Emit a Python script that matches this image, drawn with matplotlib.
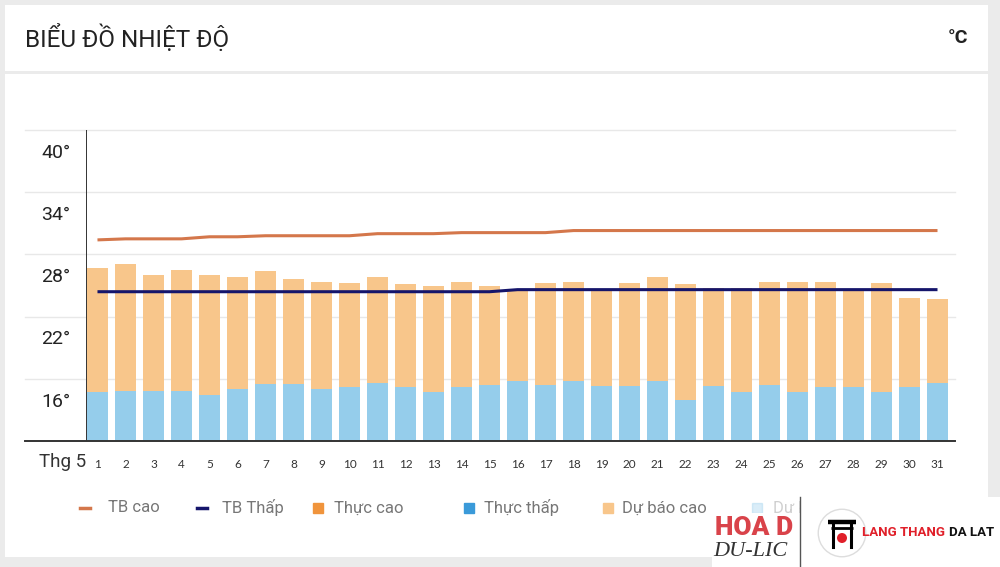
import matplotlib
matplotlib.use('Agg')
import matplotlib.pyplot as plt
from matplotlib.patches import Rectangle, Circle
from matplotlib.lines import Line2D

# ---------------- data ----------------
days = list(range(1, 32))
day_labels = [str(d) for d in days]
tb_cao = [29.4, 29.5, 29.5, 29.5, 29.7, 29.7, 29.8, 29.8, 29.8, 29.8,
          30.0, 30.0, 30.0, 30.1, 30.1, 30.1, 30.1, 30.3, 30.3, 30.3,
          30.3, 30.3, 30.3, 30.3, 30.3, 30.3, 30.3, 30.3, 30.3, 30.3, 30.3]
tb_thap = [24.4, 24.4, 24.4, 24.4, 24.4, 24.4, 24.4, 24.4, 24.4, 24.4,
           24.4, 24.4, 24.4, 24.4, 24.4, 24.6, 24.6, 24.6, 24.6, 24.6,
           24.6, 24.6, 24.6, 24.6, 24.6, 24.6, 24.6, 24.6, 24.6, 24.6, 24.6]
du_bao_cao = [26.7, 27.1, 26.0, 26.5, 26.0, 25.8, 26.4, 25.6, 25.3, 25.2,
              25.8, 25.1, 25.0, 25.3, 25.0, 24.7, 25.2, 25.3, 24.7, 25.2,
              25.8, 25.1, 24.8, 24.8, 25.3, 25.3, 25.3, 24.7, 25.2, 23.8, 23.7]
du_bao_thap = [14.7, 14.8, 14.8, 14.8, 14.4, 15.0, 15.5, 15.5, 15.0, 15.2,
               15.6, 15.2, 14.7, 15.2, 15.4, 15.8, 15.4, 15.8, 15.3, 15.3,
               15.8, 14.0, 15.3, 14.7, 15.4, 14.7, 15.2, 15.2, 14.7, 15.2, 15.6]
ytick_values = [40, 34, 28, 22, 16]
ytick_labels = ['40°', '34°', '28°', '22°', '16°']
legend_labels = ['TB cao', 'TB Thấp', 'Thực cao', 'Thực thấp', 'Dự báo cao', 'Dự báo thấp']

# ---------------- style ----------------
C_CAO_LINE = '#d4774b'
C_THAP_LINE = '#15156b'
C_THUC_CAO = '#f0943c'
C_THUC_THAP = '#3a9ad9'
C_DB_CAO = '#f8c68b'
C_DB_THAP = '#95cdeb'
FONT = ['Roboto', 'DejaVu Sans']

W, H = 1000, 567
fig = plt.figure(figsize=(W / 100, H / 100), dpi=100, facecolor='#ebebeb')


def fx(x):
    return x / W


def fy(y):
    return 1 - y / H


def rect_px(x0, y0, x1, y1, **kw):
    r = Rectangle((fx(x0), fy(y1)), fx(x1) - fx(x0), fy(y0) - fy(y1),
                  transform=fig.transFigure, **kw)
    fig.add_artist(r)
    return r


# cards
rect_px(5, 5, 988, 71, facecolor='white', edgecolor='none', zorder=0)
rect_px(5, 74, 988, 557, facecolor='white', edgecolor='none', zorder=0)

fig.text(fx(25), fy(38), 'BIỂU ĐỒ NHIỆT ĐỘ', family=FONT, fontsize=17.5,
         color='#222222', ha='left', va='center')
fig.text(fx(968), fy(38), '°C', family=FONT, fontsize=14, color='#222222',
         ha='right', va='center', weight='bold')

# ---------------- axes ----------------
ax_l, ax_r, ax_t, ax_b = 86, 955, 130, 441
ax = fig.add_axes([fx(ax_l), fy(ax_b), fx(ax_r) - fx(ax_l), fy(ax_t) - fy(ax_b)])
ax.set_facecolor('none')
ax.set_xlim(0.59, 31.625)
ax.set_ylim(10, 40)

ext = (ax_l - 25) / (ax_r - ax_l)
for v in ytick_values:
    ax.axhline(v, xmin=-ext, xmax=1, color='#e8e8e8', lw=1.0, clip_on=False, zorder=0)
ax.axhline(10, xmin=-ext, xmax=1, color='#333333', lw=1.4, clip_on=False, zorder=5)
ax.axvline(0.59, color='#333333', lw=1.4, zorder=5)

ax.bar(days, [c - 10 for c in du_bao_cao], bottom=10, width=0.75, color=C_DB_CAO, zorder=2)
ax.bar(days, [t - 10 for t in du_bao_thap], bottom=10, width=0.75, color=C_DB_THAP, zorder=3)
ax.plot(days, tb_cao, color=C_CAO_LINE, lw=2.2, zorder=4, solid_capstyle='butt')
ax.plot(days, tb_thap, color=C_THAP_LINE, lw=2.2, zorder=4, solid_capstyle='butt')

for sp in ax.spines.values():
    sp.set_visible(False)
ax.set_yticks([])
ax.set_xticks(days)
ax.set_xticklabels(day_labels, family=['Lato', 'DejaVu Sans'], fontsize=8.5, color='#333333')
ax.tick_params(axis='x', length=0, pad=13)

ytr = ax.get_yaxis_transform()
for v, lab in zip(ytick_values, ytick_labels):
    ax.text(-0.018, v - 2.2, lab, transform=ytr, ha='right', va='center',
            family=FONT, fontsize=14, color='#222222')
fig.text(fx(39), fy(462), 'Thg 5', family=FONT, fontsize=13.5, color='#333333',
         ha='left', va='center')

# ---------------- legend ----------------
ly = 508
leg_items = [
    ('line', C_CAO_LINE, 85, 108, 1.0),
    ('line', C_THAP_LINE, 202, 222, 1.0),
    ('sq', C_THUC_CAO, 318, 334, 1.0),
    ('sq', C_THUC_THAP, 469, 484, 1.0),
    ('sq', C_DB_CAO, 608, 622, 1.0),
    ('sq', C_DB_THAP, 757, 773, 0.35),
]
for (kind, col, mx, tx, a), lab in zip(leg_items, legend_labels):
    if kind == 'line':
        fig.add_artist(Line2D([fx(mx - 5), fx(mx + 5)], [fy(ly), fy(ly)], color=col,
                              lw=2.5, transform=fig.transFigure, alpha=a))
    else:
        fig.add_artist(Line2D([fx(mx)], [fy(ly)], marker='s', markersize=7,
                              color=col, transform=fig.transFigure, alpha=a))
    fig.text(fx(tx), fy(ly), lab, family=FONT, fontsize=12, color='#777777',
             ha='left', va='center', alpha=a)

# ---------------- watermarks ----------------
rect_px(712, 513, 800, 567, facecolor='white', edgecolor='none', zorder=10)
fig.text(fx(715), fy(528), 'HOA D', family=FONT, fontsize=19, weight='black',
         color='#d9434a', ha='left', va='center', zorder=11)
fig.text(fx(713), fy(551), 'DU-LIC', family=['Liberation Serif', 'DejaVu Serif'],
         fontsize=16, style='italic', color='#333333', ha='left', va='center', zorder=11)
rect_px(800, 497, 1000, 567, facecolor='white', edgecolor='none', zorder=10)
fig.add_artist(Line2D([fx(800), fx(800)], [fy(497), fy(567)], color='#555555', lw=1,
                      transform=fig.transFigure, zorder=12))
logo = fig.add_axes([fx(817), fy(558), fx(867) - fx(817), fy(508) - fy(558)])
logo.set_xlim(-1, 1)
logo.set_ylim(-1, 1)
logo.set_aspect('equal')
logo.axis('off')
logo.set_zorder(13)
logo.add_patch(Circle((0, 0), 0.95, facecolor='white', edgecolor='#dddddd', lw=1))
logo.plot([-0.55, 0.55], [0.45, 0.45], color='black', lw=3.2, solid_capstyle='butt')
logo.plot([-0.45, 0.45], [0.22, 0.22], color='black', lw=2, solid_capstyle='butt')
logo.plot([-0.35, -0.35], [0.45, -0.55], color='black', lw=2.2)
logo.plot([0.35, 0.35], [0.45, -0.55], color='black', lw=2.2)
logo.add_patch(Circle((0, -0.2), 0.2, facecolor='#e0202a', edgecolor='none'))
t_lang = fig.text(fx(862), fy(533), 'LANG THANG', family=FONT, fontsize=9.5, weight='bold',
                  color='#e0202a', ha='left', va='center', zorder=13)
fig.canvas.draw()
bb = t_lang.get_window_extent()
fig.text(bb.x1 / W + fx(4), fy(533), 'DA LAT', family=FONT, fontsize=9.5, weight='bold',
         color='#111111', ha='left', va='center', zorder=13)

fig.savefig('out.png', dpi=100, facecolor=fig.get_facecolor())
